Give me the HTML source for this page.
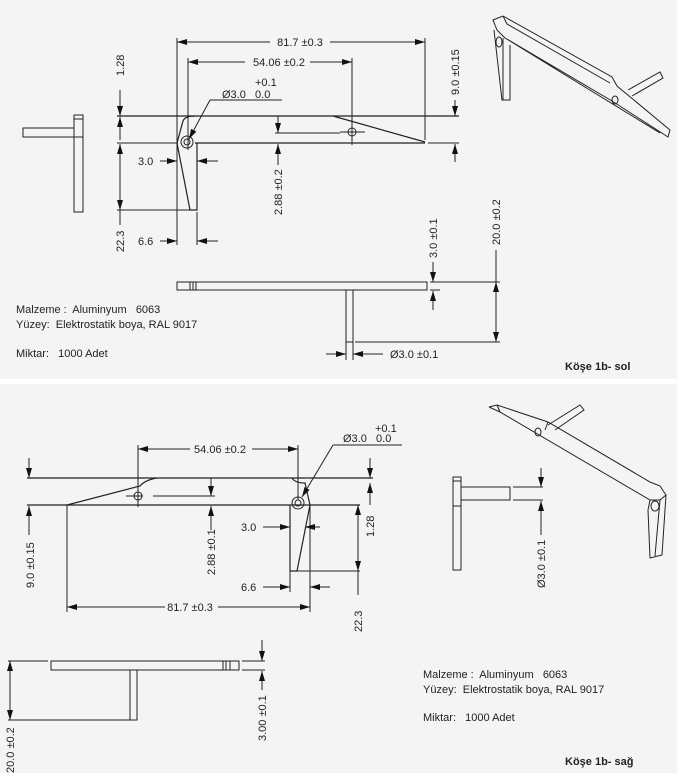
<!DOCTYPE html>
<html><head><meta charset="utf-8"><style>
html,body{margin:0;padding:0;background:#f4f4f4}
svg{display:block}
text{font-family:"Liberation Sans",sans-serif;font-size:11px;fill:#222;white-space:pre}
</style></head><body>
<svg width="677" height="773" viewBox="0 0 677 773" xmlns="http://www.w3.org/2000/svg" xml:space="preserve">
<defs><marker id="a" viewBox="0 0 10 6" refX="10" refY="3" markerWidth="10" markerHeight="6" markerUnits="userSpaceOnUse" orient="auto"><path d="M0,0L10,3L0,6z" fill="#111"/></marker></defs>
<rect x="0" y="379" width="677" height="5" fill="#fff"/>
<g stroke="#222" stroke-width="1" fill="none">
<line x1="177" y1="38" x2="177" y2="245"/><line x1="425" y1="38" x2="425" y2="140"/>
<line x1="270" y1="42" x2="177" y2="42" marker-end="url(#a)"/><line x1="330" y1="42" x2="425" y2="42" marker-end="url(#a)"/>
<line x1="188" y1="58" x2="188" y2="150"/><line x1="352" y1="58" x2="352" y2="145"/>
<line x1="245" y1="62" x2="188" y2="62" marker-end="url(#a)"/><line x1="310" y1="62" x2="352" y2="62" marker-end="url(#a)"/>
<line x1="117" y1="116" x2="459" y2="116" stroke-width="1.3"/>
<line x1="117" y1="143" x2="178" y2="143"/><line x1="195" y1="143" x2="425" y2="143" stroke-width="1.3"/><line x1="428" y1="143" x2="459" y2="143"/>
<path d="M195,116 Q185,116 183,121 L177,143 L190,210 L197,210 L197,143 M333,116 L340,118 L425,142" stroke-width="1.2"/>
<circle cx="187" cy="142" r="6"/><circle cx="187" cy="142" r="3"/>
<circle cx="352" cy="132" r="4"/><line x1="340" y1="132" x2="365" y2="132"/>
<line x1="275" y1="133" x2="340" y2="133"/>
<line x1="120" y1="90" x2="120" y2="116" marker-end="url(#a)"/><line x1="120" y1="140" x2="120" y2="117" marker-end="url(#a)"/>
<line x1="120" y1="180" x2="120" y2="144" marker-end="url(#a)"/><line x1="120" y1="180" x2="120" y2="210" marker-end="url(#a)"/><line x1="120" y1="210" x2="120" y2="225"/>
<line x1="117" y1="210" x2="190" y2="210"/>
<line x1="160" y1="161" x2="177" y2="161" marker-end="url(#a)"/><line x1="218" y1="161" x2="197" y2="161" marker-end="url(#a)"/>
<line x1="160" y1="241" x2="177" y2="241" marker-end="url(#a)"/><line x1="218" y1="241" x2="197" y2="241" marker-end="url(#a)"/><line x1="197" y1="212" x2="197" y2="245"/>
<line x1="278" y1="116" x2="278" y2="133" marker-end="url(#a)"/><line x1="278" y1="165" x2="278" y2="144" marker-end="url(#a)"/>
<line x1="455" y1="100" x2="455" y2="116" marker-end="url(#a)"/><line x1="455" y1="162" x2="455" y2="144" marker-end="url(#a)"/>
<line x1="210" y1="100" x2="282" y2="100"/><line x1="210" y1="100" x2="189" y2="139" marker-end="url(#a)"/>
<rect x="74" y="115" width="9" height="97"/><line x1="74" y1="119" x2="83" y2="119"/><line x1="74" y1="137" x2="83" y2="137"/>
<rect x="23" y="128" width="51" height="9"/>
<rect x="177" y="282" width="250" height="8"/><line x1="190" y1="282" x2="190" y2="290"/><line x1="193" y1="282" x2="193" y2="290"/><line x1="196" y1="282" x2="196" y2="290"/>
<path d="M346,290 L346,342 L353,342 L353,290"/>
<line x1="430" y1="282" x2="500" y2="282"/><line x1="430" y1="290" x2="440" y2="290"/>
<line x1="433" y1="262" x2="433" y2="282" marker-end="url(#a)"/><line x1="433" y1="310" x2="433" y2="291" marker-end="url(#a)"/>
<line x1="496" y1="310" x2="496" y2="282" marker-end="url(#a)"/><line x1="496" y1="310" x2="496" y2="342" marker-end="url(#a)"/><line x1="496" y1="250" x2="496" y2="282"/>
<line x1="355" y1="342" x2="500" y2="342"/><line x1="346" y1="342" x2="346" y2="360"/><line x1="353" y1="342" x2="353" y2="360"/>
<line x1="326" y1="354" x2="346" y2="354" marker-end="url(#a)"/><line x1="383" y1="354" x2="353" y2="354" marker-end="url(#a)"/>
<path d="M493,20 L503,16 L612,77 L617,86 L670,130 L668,137 L612,101 L505,38 L497,30 Z M503,16 L507,24 L610,83 M497,30 L505,38 L660,133 M494,30 L502,100 L510,100 L510,45 M503,38 L503,100 M628,90 L660,72 L663,78 L632,96"/>
<ellipse cx="499" cy="42" rx="3" ry="5"/><ellipse cx="615" cy="100" rx="3" ry="4"/>
<line x1="138" y1="445" x2="138" y2="507"/><line x1="298" y1="445" x2="298" y2="500"/>
<line x1="190" y1="449" x2="138" y2="449" marker-end="url(#a)"/><line x1="252" y1="449" x2="298" y2="449" marker-end="url(#a)"/>
<line x1="27" y1="478" x2="373" y2="478" stroke-width="1.3"/>
<line x1="27" y1="505" x2="360" y2="505" stroke-width="1.2"/>
<path d="M67,505 L140,486 Q145,480 157,478 M292,478 Q295,483 305,483 L310,505 L297,571 L290,571 L290,505" stroke-width="1.2"/>
<circle cx="298" cy="503" r="6"/><circle cx="298" cy="503" r="3"/>
<circle cx="138" cy="496" r="4"/><line x1="126" y1="496" x2="143" y2="496"/><line x1="153" y1="496" x2="215" y2="496"/>
<line x1="211" y1="478" x2="211" y2="496" marker-end="url(#a)"/><line x1="211" y1="530" x2="211" y2="506" marker-end="url(#a)"/>
<line x1="29" y1="458" x2="29" y2="478" marker-end="url(#a)"/><line x1="29" y1="535" x2="29" y2="506" marker-end="url(#a)"/>
<line x1="67" y1="505" x2="67" y2="612"/><line x1="310" y1="505" x2="310" y2="612"/><line x1="290" y1="571" x2="290" y2="592"/>
<line x1="165" y1="607" x2="67" y2="607" marker-end="url(#a)"/><line x1="218" y1="607" x2="310" y2="607" marker-end="url(#a)"/>
<line x1="263" y1="527" x2="290" y2="527" marker-end="url(#a)"/><line x1="320" y1="527" x2="305" y2="527" marker-end="url(#a)"/>
<line x1="263" y1="587" x2="290" y2="587" marker-end="url(#a)"/><line x1="330" y1="587" x2="310" y2="587" marker-end="url(#a)"/>
<line x1="370" y1="458" x2="370" y2="478" marker-end="url(#a)"/><line x1="370" y1="505" x2="370" y2="483" marker-end="url(#a)"/>
<line x1="358" y1="540" x2="358" y2="505" marker-end="url(#a)"/><line x1="358" y1="540" x2="358" y2="571" marker-end="url(#a)"/><line x1="358" y1="571" x2="358" y2="595"/>
<line x1="297" y1="571" x2="360" y2="571"/>
<line x1="333" y1="445" x2="402" y2="445"/><line x1="333" y1="445" x2="302" y2="497" marker-end="url(#a)"/>
<rect x="453" y="477" width="8" height="93"/><line x1="453" y1="481" x2="461" y2="481"/><line x1="453" y1="506" x2="461" y2="506"/>
<rect x="461" y="487" width="49" height="13"/>
<line x1="513" y1="487" x2="543" y2="487"/><line x1="513" y1="500" x2="543" y2="500"/>
<line x1="541" y1="468" x2="541" y2="487" marker-end="url(#a)"/><line x1="541" y1="535" x2="541" y2="501" marker-end="url(#a)"/>
<path d="M489,407 L497,405 L548,422 L650,482 L660,486 L666,495 L662,555 L650,558 L648,510 M489,407 L500,412 L650,500 L660,500 L666,495 M500,412 L497,405 M548,422 L545,430 M650,500 L648,510 M660,500 L655,556 M548,425 L580,405 L584,410 L555,430"/>
<ellipse cx="538" cy="432" rx="3" ry="4"/><ellipse cx="655" cy="506" rx="4" ry="5"/>
<rect x="51" y="661" width="188" height="9"/><line x1="223" y1="661" x2="223" y2="670"/><line x1="226" y1="661" x2="226" y2="670"/><line x1="230" y1="661" x2="230" y2="670"/>
<path d="M130,670 L130,720 L137,720 L137,670"/>
<line x1="8" y1="661" x2="48" y2="661"/><line x1="8" y1="720" x2="130" y2="720"/>
<line x1="10" y1="690" x2="10" y2="661" marker-end="url(#a)"/><line x1="10" y1="690" x2="10" y2="720" marker-end="url(#a)"/>
<line x1="242" y1="661" x2="265" y2="661"/><line x1="242" y1="670" x2="265" y2="670"/>
<line x1="262" y1="640" x2="262" y2="661" marker-end="url(#a)"/><line x1="262" y1="690" x2="262" y2="671" marker-end="url(#a)"/>
</g>
<g>
<text x="300" y="46" text-anchor="middle">81.7 ±0.3</text>
<text x="279" y="66" text-anchor="middle">54.06 ±0.2</text>
<text x="255" y="86">+0.1</text>
<text x="222" y="98">Ø3.0   0.0</text>
<text x="138" y="165">3.0</text>
<text x="138" y="245">6.6</text>
<text transform="translate(124,76) rotate(-90)">1.28</text>
<text transform="translate(124,252) rotate(-90)">22.3</text>
<text transform="translate(282,215) rotate(-90)">2.88 ±0.2</text>
<text transform="translate(459,95) rotate(-90)">9.0 ±0.15</text>
<text transform="translate(437,258) rotate(-90)">3.0 ±0.1</text>
<text transform="translate(500,245) rotate(-90)">20.0 ±0.2</text>
<text x="390" y="358">Ø3.0 ±0.1</text>
<text x="16" y="313">Malzeme :  Aluminyum   6063</text>
<text x="16" y="328">Yüzey:  Elektrostatik boya, RAL 9017</text>
<text x="16" y="357">Miktar:   1000 Adet</text>
<text x="565" y="370" font-weight="bold">Köşe 1b- sol</text>
<text x="220" y="453" text-anchor="middle">54.06 ±0.2</text>
<text x="375" y="432">+0.1</text>
<text x="343" y="442">Ø3.0   0.0</text>
<text x="241" y="531">3.0</text>
<text x="241" y="591">6.6</text>
<text x="190" y="611" text-anchor="middle">81.7 ±0.3</text>
<text transform="translate(215,575) rotate(-90)">2.88 ±0.1</text>
<text transform="translate(34,588) rotate(-90)">9.0 ±0.15</text>
<text transform="translate(374,537) rotate(-90)">1.28</text>
<text transform="translate(362,632) rotate(-90)">22.3</text>
<text transform="translate(545,588) rotate(-90)">Ø3.0 ±0.1</text>
<text transform="translate(14,773) rotate(-90)">20.0 ±0.2</text>
<text transform="translate(266,741) rotate(-90)">3.00 ±0.1</text>
<text x="423" y="678">Malzeme :  Aluminyum   6063</text>
<text x="423" y="693">Yüzey:  Elektrostatik boya, RAL 9017</text>
<text x="423" y="721">Miktar:   1000 Adet</text>
<text x="565" y="765" font-weight="bold">Köşe 1b- sağ</text>
</g>
</svg>
</body></html>
